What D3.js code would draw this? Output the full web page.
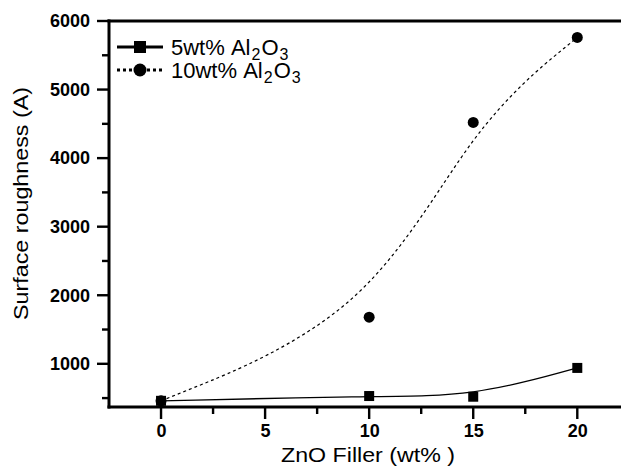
<!DOCTYPE html>
<html>
<head>
<meta charset="utf-8">
<script src="https://cdn.jsdelivr.net/npm/d3@7"></script>
<style>
  body { margin: 0; background: #fff; }
  svg { display: block; font-family: "Liberation Sans", Arial, sans-serif; }
</style>
</head>
<body>
<div id="chart"></div>
<script>
const fillerWt = [0, 10, 15, 20];
const rough5 = [460, 530, 520, 940];
const rough10 = [460, 1680, 4520, 5760];
const seriesNames = ['5wt%', '10wt%'];
const xTicks = [0, 5, 10, 15, 20];
const xMinor = [2.5, 7.5, 12.5, 17.5];
const yTicks = [1000, 2000, 3000, 4000, 5000, 6000];
const yMinor = [500, 1500, 2500, 3500, 4500, 5500];

const width = 621,
      height = 471;

const x = d3.scaleLinear().domain([-2.5, 22.1]).range([109, 621]),
      y = d3.scaleLinear().domain([370, 6000]).range([407, 21]);

const svg = d3.select('#chart')
              .append('svg')
              .attr('width', width)
              .attr('height', height);

const x0 = x.range()[0],
      y0 = y.range()[0],
      yTop = y.range()[1];

// axis labels through d3.axis
const xAxis = svg.append('g')
                 .attr('transform', 'translate(0,' + y0 + ')')
                 .call(d3.axisBottom(x).tickValues(xTicks).tickFormat(d3.format('d'))
                         .tickSize(0).tickPadding(17));
const yAxis = svg.append('g')
                 .attr('transform', 'translate(' + x0 + ',0)')
                 .call(d3.axisLeft(y).tickValues(yTicks).tickFormat(d3.format('d'))
                         .tickSize(0).tickPadding(19));
[xAxis, yAxis].forEach(function(ax) {
  ax.select('.domain').remove();
  ax.selectAll('.tick text')
    .attr('fill', '#000')
    .style('font-size', '18px')
    .style('font-weight', 'bold');
});

// tick marks as small filled rects
const marks = svg.append('g').attr('class', 'marks').attr('fill', '#000');

marks.selectAll('rect.xt')
     .data(xTicks.map(function(d) { return [d, 12]; }).concat(xMinor.map(function(d) { return [d, 7]; })))
     .enter()
     .append('rect')
     .attr('class', 'xt')
     .attr('x', function(d) { return x(d[0]) - 1.2; })
     .attr('y', y0)
     .attr('width', 2.4)
     .attr('height', function(d) { return d[1]; });

marks.selectAll('rect.yt')
     .data(yTicks.map(function(d) { return [d, 12]; }).concat(yMinor.map(function(d) { return [d, 7]; })))
     .enter()
     .append('rect')
     .attr('class', 'yt')
     .attr('x', function(d) { return x0 - d[1]; })
     .attr('y', function(d) { return y(d[0]) - 1.2; })
     .attr('width', function(d) { return d[1]; })
     .attr('height', 2.4);

// axis lines: left, bottom, top
marks.append('rect').attr('x', x0 - 1.5).attr('y', yTop - 1.5).attr('width', 3).attr('height', y0 - yTop + 3);
marks.append('rect').attr('x', x0 - 1.5).attr('y', y0 - 1.5).attr('width', x.range()[1] - x0 + 1.5).attr('height', 3);
marks.append('rect').attr('x', x0 - 1.5).attr('y', yTop - 1.5).attr('width', x.range()[1] - x0 + 1.5).attr('height', 3);

// axis titles
svg.append('text')
   .attr('x', 281)
   .attr('y', 462)
   .attr('textLength', 174)
   .attr('lengthAdjust', 'spacingAndGlyphs')
   .style('font-size', '20px')
   .text('ZnO Filler (wt% )');

svg.append('text')
   .attr('transform', 'translate(28,320) rotate(-90)')
   .attr('textLength', 233)
   .attr('lengthAdjust', 'spacingAndGlyphs')
   .style('font-size', '21px')
   .text('Surface roughness (A)');

// curves
const pts5 = fillerWt.map(function(d, i) { return [d, rough5[i]]; }),
      pts10 = fillerWt.map(function(d, i) { return [d, rough10[i]]; });

const line = d3.line()
               .x(function(d) { return x(d[0]); })
               .y(function(d) { return y(d[1]); })
               .curve(d3.curveBasis);

svg.append('path')
   .attr('d', line(pts10))
   .attr('fill', 'none')
   .attr('stroke', '#000')
   .attr('stroke-width', 1.2)
   .attr('stroke-dasharray', '3,3');

svg.append('path')
   .attr('d', line(pts5))
   .attr('fill', 'none')
   .attr('stroke', '#000')
   .attr('stroke-width', 1.3);

svg.selectAll('circle.pt')
   .data(pts10)
   .enter()
   .append('circle')
   .attr('class', 'pt')
   .attr('cx', function(d) { return x(d[0]); })
   .attr('cy', function(d) { return y(d[1]); })
   .attr('r', 5.5)
   .attr('fill', '#000');

svg.selectAll('rect.pt')
   .data(pts5)
   .enter()
   .append('rect')
   .attr('class', 'pt')
   .attr('x', function(d) { return x(d[0]) - 5; })
   .attr('y', function(d) { return y(d[1]) - 5; })
   .attr('width', 10)
   .attr('height', 10)
   .attr('fill', '#000');

// legend
const legend = svg.append('g').attr('id', 'legend');
const rowY = [47, 70];

seriesNames.forEach(function(name, i) {
  const ly = rowY[i];
  legend.append('line')
        .attr('x1', 117)
        .attr('x2', 163)
        .attr('y1', ly)
        .attr('y2', ly)
        .attr('stroke', '#000')
        .attr('stroke-width', 3)
        .attr('stroke-dasharray', i === 0 ? null : '3,3');
  if (i === 0) {
    legend.append('rect')
          .attr('x', 134).attr('y', ly - 6)
          .attr('width', 12).attr('height', 12)
          .attr('fill', '#000');
  } else {
    legend.append('circle')
          .attr('cx', 140).attr('cy', ly)
          .attr('r', 6.5)
          .attr('fill', '#000');
  }
  const t = legend.append('text')
                  .attr('x', 171)
                  .attr('y', ly + 8)
                  .style('font-size', '22px');
  t.append('tspan').text(name + '\u00a0Al');
  t.append('tspan').attr('dx', 1).attr('dy', 5).style('font-size', '16px').text('2');
  t.append('tspan').attr('dx', 1).attr('dy', -5).text('O');
  t.append('tspan').attr('dx', 1).attr('dy', 5).style('font-size', '16px').text('3');
});
</script>
</body>
</html>
